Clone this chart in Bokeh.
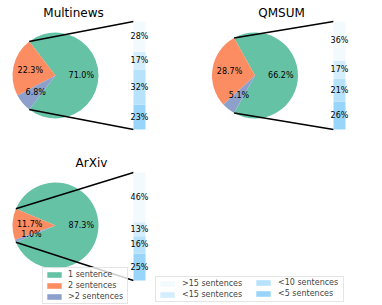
import numpy as np
from bokeh.plotting import figure
from bokeh.models import Range1d, ColumnDataSource, Legend, LegendItem
from bokeh.core.properties import value
from bokeh.embed import file_html
from bokeh.resources import INLINE

# ---------------- data ----------------
titles = ["Multinews", "QMSUM", "ArXiv"]
pie_labels = ["1 sentence", "2 sentences", ">2 sentences"]
multinews_pie = [71.0, 22.3, 6.8]
qmsum_pie = [66.2, 28.7, 5.1]
arxiv_pie = [87.3, 11.7, 1.0]

# bar segments listed bottom-up
bar_labels = ["<5 sentences", "<10 sentences", "<15 sentences", ">15 sentences"]
multinews_bar = [23, 32, 17, 28]
qmsum_bar = [26, 21, 17, 36]
arxiv_bar = [25, 16, 13, 46]

# ---------------- styling / layout ----------------
pie_colors = ["#66c2a5", "#fc8d62", "#8da0cb"]
bar_alphas = [0.85, 0.6, 0.35, 0.1]
BAR_BASE = (135, 206, 250)  # lightskyblue


def blend(alpha):
    r, g, b = (int(round(255 - alpha * (255 - c))) for c in BAR_BASE)
    return "#%02x%02x%02x" % (r, g, b)


bar_colors = [blend(a) for a in bar_alphas]

W, H = 382, 305
R = 43
BAR_W = 12
BAR_H = 108
FONT = "DejaVu Sans"

panels = [
    dict(title=titles[0], pie=multinews_pie, bar=multinews_bar, cx=55, cy=75, bx=133, btop=21, tx=73, ty=12.5),
    dict(title=titles[1], pie=qmsum_pie, bar=qmsum_bar, cx=254.5, cy=75, bx=333, btop=21, tx=281, ty=12.5),
    dict(title=titles[2], pie=arxiv_pie, bar=arxiv_bar, cx=55, cy=225, bx=133, btop=172, tx=91, ty=162.5),
]


def Y(py):
    return H - py


p = figure(width=W, height=H, output_backend="svg", toolbar_location=None,
           x_range=Range1d(0, W), y_range=Range1d(0, H),
           x_axis_location=None, y_axis_location=None, min_border=0,
           outline_line_color=None)
p.xgrid.visible = False
p.ygrid.visible = False

pie_renderer = None
bar_renderer = None
for pn in panels:
    vals = np.array(pn["pie"], dtype=float)
    ratios = vals / vals.sum()
    start = -np.pi * ratios[0]
    ends = start + 2 * np.pi * np.cumsum(ratios)
    starts = np.concatenate([[start], ends[:-1]])
    cx, cy = pn["cx"], Y(pn["cy"])
    src = ColumnDataSource(dict(x=[cx] * 3, y=[cy] * 3, s=starts, e=ends, c=pie_colors))
    wr = p.wedge(x="x", y="y", radius=R, start_angle="s", end_angle="e",
                 fill_color="c", line_color=None, source=src)
    if pie_renderer is None:
        pie_renderer = wr

    # connection lines
    a = np.pi * ratios[0]
    btop = Y(pn["btop"])
    bbot = btop - BAR_H
    p.segment(x0=[cx + R * np.cos(a), cx + R * np.cos(-a)],
              y0=[cy + R * np.sin(a), cy + R * np.sin(-a)],
              x1=[pn["bx"], pn["bx"]], y1=[btop, bbot],
              line_color="black", line_width=1.5)

    # pie pct labels
    mids = (starts + ends) / 2
    p.text(x=cx + 0.6 * R * np.cos(mids), y=cy + 0.6 * R * np.sin(mids),
           text=["%.1f%%" % v for v in vals], text_align="center",
           text_baseline="middle", text_font=value(FONT), text_font_size="8px",
           text_color="black")

    # bar
    bv = np.array(pn["bar"], dtype=float)
    br = bv / bv.sum()
    tops = bbot + BAR_H * np.cumsum(br)
    bots = np.concatenate([[bbot], tops[:-1]])
    bsrc = ColumnDataSource(dict(l=[pn["bx"]] * 4, r=[pn["bx"] + BAR_W] * 4,
                                 b=bots, t=tops, c=bar_colors))
    qr = p.quad(left="l", right="r", bottom="b", top="t", fill_color="c",
                line_color=None, source=bsrc)
    if bar_renderer is None:
        bar_renderer = qr
    p.text(x=[pn["bx"] + BAR_W / 2] * 4, y=(bots + tops) / 2,
           text=["%d%%" % v for v in bv], text_align="center",
           text_baseline="middle", text_font=value(FONT), text_font_size="8px",
           text_color="black")

    # title
    p.text(x=[pn["tx"]], y=[Y(pn["ty"])], text=[pn["title"]], text_align="center",
           text_baseline="alphabetic", text_font=value(FONT), text_font_size="12px",
           text_color="black")


def style_legend(lg):
    lg.label_text_font = FONT
    lg.label_text_font_size = "8px"
    lg.label_height = 8
    lg.glyph_height = 7
    lg.glyph_width = 18
    lg.padding = 2
    lg.spacing = 2
    lg.margin = 0
    lg.background_fill_color = "white"
    lg.background_fill_alpha = 0.8
    lg.border_line_color = "#cccccc"
    lg.border_line_width = 1


left_legend = Legend(items=[LegendItem(label=pie_labels[i], renderers=[pie_renderer], index=i)
                            for i in range(3)], location=(42, 1))
style_legend(left_legend)
left_legend.label_standoff = 5
left_legend.label_width = 57
p.add_layout(left_legend)

# right legend: two columns (first column carries the frame)
right_a = Legend(items=[LegendItem(label=bar_labels[i], renderers=[bar_renderer], index=i)
                        for i in [3, 2]], location=(155, 3))
style_legend(right_a)
right_a.label_standoff = 6
right_a.label_width = 159
p.add_layout(right_a)

right_b = Legend(items=[LegendItem(label=bar_labels[i], renderers=[bar_renderer], index=i)
                        for i in [1, 0]], location=(252, 5))
style_legend(right_b)
right_b.label_standoff = 6
right_b.border_line_alpha = 0
right_b.background_fill_alpha = 0
p.add_layout(right_b)

open("out.html", "w").write(file_html(p, INLINE))
